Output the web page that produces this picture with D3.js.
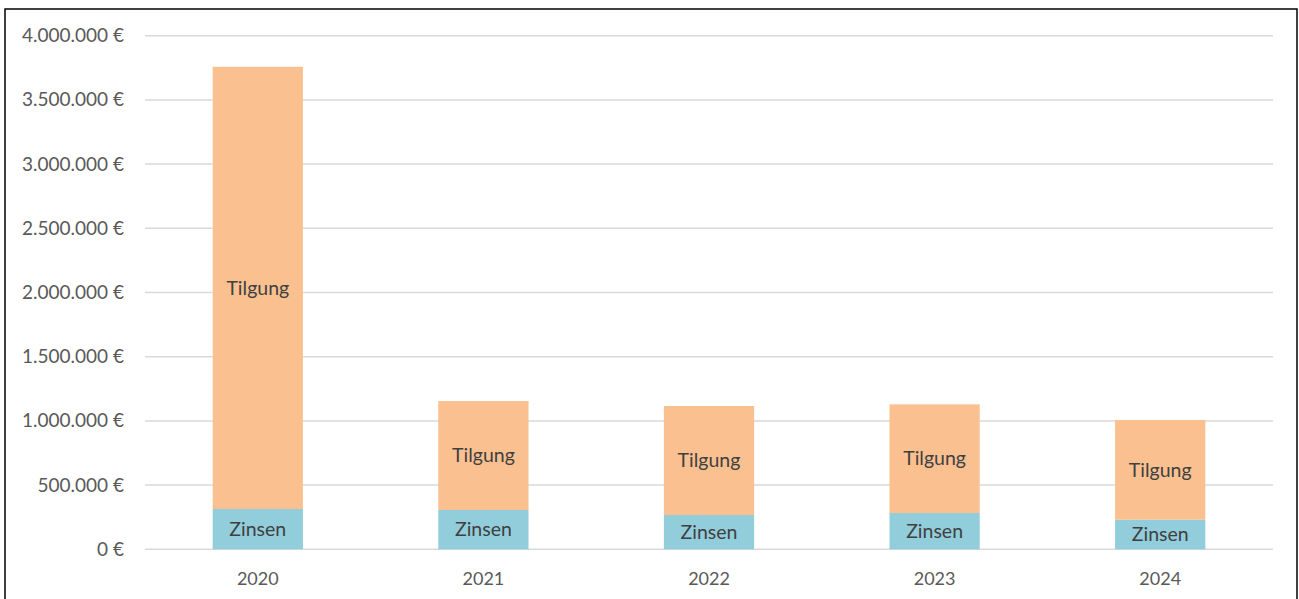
<!DOCTYPE html>
<html><head><meta charset="utf-8">
<script src="https://cdn.jsdelivr.net/npm/d3@7"></script>
<style>body{margin:0;background:#fff;} svg{display:block;}</style>
</head><body>
<svg id="c" width="1299" height="599"></svg>
<script>
const years = ["2020","2021","2022","2023","2024"];
const zinsen = [314000, 306000, 267000, 283000, 231000];
const tilgung = [3444000, 849000, 849000, 846000, 776000];
const seriesNames = ["Zinsen","Tilgung"];
const yTicks = [0,500000,1000000,1500000,2000000,2500000,3000000,3500000,4000000];

const svg = d3.select("#c");
const font = "Lato, 'Open Sans', sans-serif";
svg.append("rect").attr("x",5).attr("y",9).attr("width",1292).attr("height",600)
  .attr("fill","#fff").attr("stroke","#000").attr("stroke-width",1.5);

const x = d3.scaleBand().domain(years).range([145,1273]).paddingInner(0.6).paddingOuter(0.3);
const y = d3.scaleLinear().domain([0,4000000]).range([549.3,35.7]);

const fmt = v => d3.format(",")(v).replace(/,/g,".") + " €";

const grid = svg.append("g");
grid.selectAll("line").data(yTicks).join("line")
  .attr("x1",145).attr("x2",1273)
  .attr("y1",d=>y(d)).attr("y2",d=>y(d))
  .attr("stroke","#d9d9d9").attr("stroke-width",1.5);

const yAxis = d3.axisLeft(y).tickValues(yTicks).tickFormat(fmt).tickSize(0).tickPadding(0);
const ga = svg.append("g").attr("transform","translate(124,0)").call(yAxis);
ga.select(".domain").remove();
ga.selectAll("text").attr("font-family",font).attr("font-size",19).attr("fill","#595959");

const xAxis = d3.axisBottom(x).tickSize(0).tickPadding(0);
const gx = svg.append("g").attr("transform","translate(0,569)").call(xAxis);
gx.select(".domain").remove();
gx.selectAll("text").attr("font-family",font).attr("font-size",18).attr("fill","#595959").attr("dy","0.9em");

const data = years.map((yr,i)=>({year:yr, Zinsen:zinsen[i], Tilgung:tilgung[i]}));
const stack = d3.stack().keys(seriesNames)(data);
const colors = {Zinsen:"#92cddc", Tilgung:"#fac090"};

const layers = svg.append("g").selectAll("g").data(stack).join("g")
  .attr("fill",d=>colors[d.key]);
layers.selectAll("rect").data(d=>d).join("rect")
  .attr("x",d=>x(d.data.year)).attr("width",x.bandwidth())
  .attr("y",d=>y(d[1])).attr("height",d=>y(d[0])-y(d[1]));

const labels = svg.append("g");
stack.forEach(s=>{
  labels.selectAll(null).data(s).join("text")
    .attr("x",d=>x(d.data.year)+x.bandwidth()/2)
    .attr("y",d=>(y(d[0])+y(d[1]))/2)
    .attr("dy","0.35em").attr("text-anchor","middle")
    .attr("font-family",font).attr("font-size",19.5).attr("fill","#404040")
    .text(s.key);
});
</script>
</body></html>
